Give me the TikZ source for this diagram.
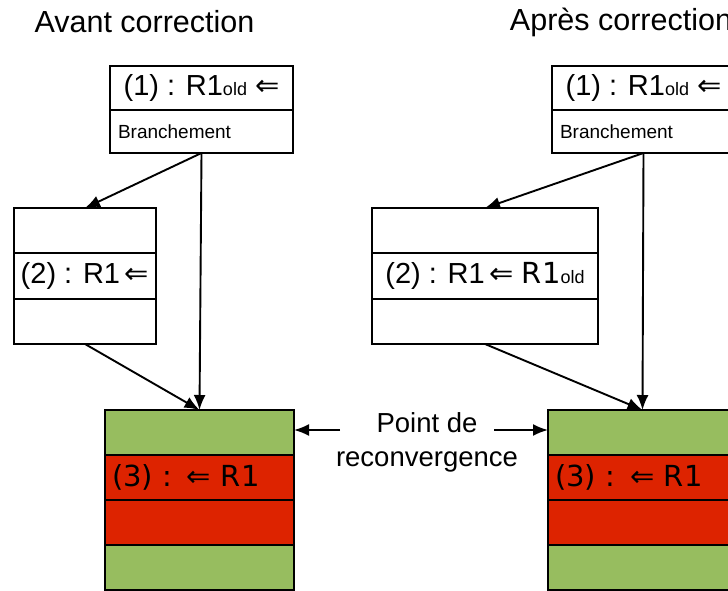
\documentclass[tikz,border=0pt]{standalone}
\usepackage{fontspec}
\setmainfont{Liberation Sans}
\newfontfamily\djv{DejaVu Sans}
\usetikzlibrary{positioning,arrows.meta}

\definecolor{vert}{RGB}{151,189,95}
\definecolor{rouge}{RGB}{221,35,0}

\newcommand{\olds}{{\fontsize{18}{20}\selectfont old}}
\newcommand{\larr}{{\djv ⇐}}

\tikzset{
  big/.style={font=\fontsize{29}{34}\selectfont},
  row/.style={draw, line width=1.8pt, outer sep=0pt, inner sep=6pt, big},
  leftrow/.style={row, align=left, inner xsep=7pt},
  titre/.style={font=\fontsize{30.5}{34}\selectfont, inner sep=0pt}
}

\begin{document}
\begin{tikzpicture}[x=1pt,y=-1pt, line width=1.9pt, >={Latex[length=15pt,width=12pt]}]
            \clip (0,0) rectangle (728,590);
            \node[titre] (ta) at (144.5,22) {Avant correction};
            \node[titre] (tb) at (621,22) {Après correction};
            % avant correction
            \node[row, minimum width=183pt, minimum height=44pt] (a1) at (201.5,88) {(1) : R1\olds\ \larr};
            \node[leftrow, minimum height=43pt, text width=167pt, inner xsep=8pt, font=\fontsize{19}{22}\selectfont, below=0pt of a1] (a1b) {Branchement};
            \node[row, minimum width=142pt, minimum height=45.33pt] (a2t) at (85,230.67) {};
            \node[row, minimum width=142pt, minimum height=45.33pt, below=0pt of a2t] (a2) {(2) : R1\,\larr};
            \node[row, minimum width=142pt, minimum height=45.33pt, below=0pt of a2] (a2b) {};
            \node[row, fill=vert, minimum width=189pt, minimum height=45pt] (a3a) at (199.5,432.5) {};
            \node[leftrow, fill=rouge, text width=175pt, minimum height=45pt, below=0pt of a3a] (a3b) {\djv (3) : ⇐ R1};
            \node[row, fill=rouge, minimum width=189pt, minimum height=45pt, below=0pt of a3b] (a3c) {};
            \node[row, fill=vert, minimum width=189pt, minimum height=45pt, below=0pt of a3c] (a3d) {};
            \draw[->] (a1b.south) -- (a2t.north);
            \draw[->] (a1b.south) -- (a3a.north);
            \draw[->] (a2b.south) -- (a3a.north);
            % apres correction
            \node[row, minimum width=183pt, minimum height=44pt] (b1) at (643.5,88) {(1) : R1\olds\ \larr};
            \node[leftrow, minimum height=43pt, text width=167pt, inner xsep=8pt, font=\fontsize{19}{22}\selectfont, below=0pt of b1] (b1b) {Branchement};
            \node[row, minimum width=226pt, minimum height=45.33pt] (b2t) at (485,230.67) {};
            \node[row, minimum width=226pt, minimum height=45.33pt, below=0pt of b2t] (b2) {(2) : R1\,\larr\ {\djv R1}\olds};
            \node[row, minimum width=226pt, minimum height=45.33pt, below=0pt of b2] (b2b) {};
            \node[row, fill=vert, minimum width=189pt, minimum height=45pt] (b3a) at (642.5,432.5) {};
            \node[leftrow, fill=rouge, text width=175pt, minimum height=45pt, below=0pt of b3a] (b3b) {\djv (3) : ⇐ R1};
            \node[row, fill=rouge, minimum width=189pt, minimum height=45pt, below=0pt of b3b] (b3c) {};
            \node[row, fill=vert, minimum width=189pt, minimum height=45pt, below=0pt of b3c] (b3d) {};
            \draw[->] (b1b.south) -- (b2t.north);
            \draw[->] (b1b.south) -- (b3a.north);
            \draw[->] (b2b.south) -- (b3a.north);
            % point de reconvergence
            \node[font=\fontsize{27.5}{34}\selectfont, align=center, inner sep=0pt] (pc) at (427,442) {Point de\\reconvergence};
            \coordinate (pl) at (340,430);
            \coordinate (pr) at (494,430);
            \draw[->] (pl) -- (pl -| a3a.east);
            \draw[->] (pr) -- (pr -| b3a.west);
\end{tikzpicture}
\end{document}
